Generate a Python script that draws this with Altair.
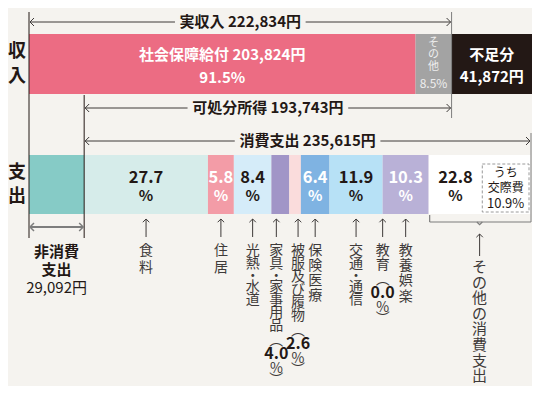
import altair as alt
import pandas as pd

# ---------------- data ----------------
income_labels = ["社会保障給付", "その他", "不足分"]
income_values = [203824, 19010, 41872]
income_pct = [91.5, 8.5, None]
actual_income = 222834
disposable_income = 193743
consumption_total = 235615
non_consumption = 29092

exp_labels = ["食料", "住居", "光熱・水道", "家具・家事用品", "被服及び履物",
              "保険医療", "交通・通信", "教育", "教養娯楽", "その他の消費支出"]
exp_pct = [27.7, 5.8, 8.4, 4.0, 2.6, 6.4, 11.9, 0.0, 10.3, 22.8]
sub_label = ["うち", "交際費"]
sub_pct = 10.9

# ---------------- layout & style ----------------
W, H = 524, 378
BG = "#f5f3ef"
FONT = "Noto Sans CJK JP"
INK = "#231815"
LABEL_INK = "#3e3a39"
GRAY = "#7d7d7d"
X0_PX, XEND_PX = 21, 523

income_colors = {"社会保障給付": "#ec6c83", "その他": "#a3a3a3", "不足分": "#231815"}
exp_colors = {"非消費支出": "#86cbc6", "食料": "#d6ecea", "住居": "#f39ca7",
              "光熱・水道": "#d5ecf9", "家具・家事用品": "#a195c7",
              "被服及び履物": "#fadcdc", "保険医療": "#7fb3e2",
              "交通・通信": "#b7e1f6", "教育": "#cccccc", "教養娯楽": "#b9b1d7",
              "その他の消費支出": "#ffffff"}
white_in_bar = {"住居", "保険医療", "教養娯楽"}
label_dx = {"家具・家事用品": -4, "被服及び履物": 3}
char_step = {"食料": 16.5, "住居": 16.5, "保険医療": 15.0, "教養娯楽": 15.2,
             "教育": 14, "その他の消費支出": 15.6}

INC_Y = (26, 86)
EXP_Y = (147, 206)

total = non_consumption + consumption_total
ypp = total / (XEND_PX - X0_PX)          # yen per pixel
XMIN, XMAX = -X0_PX * ypp, (W - X0_PX) * ypp


def px(n):
    return n * ypp


XS = alt.Scale(domain=[XMIN, XMAX], range=[0, W], nice=False, zero=False)
YS = alt.Scale(domain=[0, H], range=[0, H], nice=False, zero=False)
X = alt.X("x:Q", scale=XS, axis=None)
Y = alt.Y("y:Q", scale=YS, axis=None)

LEFT = "M1,-1L0,0L1,1"
RIGHT = "M-1,-1L0,0L-1,1"
UP = "M-1,1L0,0L1,1"
NOTCH = "M-1,0L0,1L1,0"


def text_w(s, fs):
    w = 0
    for c in s:
        if ord(c) > 0x2E80:
            w += fs
        elif c in ",.":
            w += 0.3 * fs
        elif c == " ":
            w += 0.25 * fs
        else:
            w += 0.56 * fs
    return w


def texts(rows, size, color, weight="normal"):
    return alt.Chart(pd.DataFrame(rows)).mark_text(
        font=FONT, fontSize=size, color=color, fontWeight=weight,
        align="center", baseline="middle").encode(x=X, y=Y, text="text:N")


def hrules(rows, color, sw=1):
    return alt.Chart(pd.DataFrame(rows)).mark_rule(color=color, strokeWidth=sw).encode(
        x=X, x2="x2", y=Y)


def vrules(rows, color, sw=1):
    return alt.Chart(pd.DataFrame(rows)).mark_rule(color=color, strokeWidth=sw).encode(
        x=X, y=Y, y2="y2")


def marks(rows, shape, size, color, sw=1):
    return alt.Chart(pd.DataFrame(rows)).mark_point(
        shape=shape, size=size, filled=False, color=color, strokeWidth=sw,
        opacity=1).encode(x=X, y=Y)


layers = []

# ---------------- bars ----------------
bars, keys, cols = [], [], []
cum = 0
for lab, v in zip(income_labels, income_values):
    bars.append(dict(key="inc:" + lab, x=cum, x2=cum + v, y=INC_Y[0], y2=INC_Y[1]))
    keys.append("inc:" + lab)
    cols.append(income_colors[lab])
    cum += v
bars[-1]["x2"] = XMAX  # shortfall block bleeds to the edge, as in the original

bars.append(dict(key="exp:非消費支出", x=0, x2=non_consumption, y=EXP_Y[0], y2=EXP_Y[1]))
keys.append("exp:非消費支出")
cols.append(exp_colors["非消費支出"])
seg = {}
cum = non_consumption
for lab, p in zip(exp_labels, exp_pct):
    w = p / 100 * consumption_total
    seg[lab] = (cum, cum + w)
    bars.append(dict(key="exp:" + lab, x=cum, x2=cum + w, y=EXP_Y[0], y2=EXP_Y[1]))
    keys.append("exp:" + lab)
    cols.append(exp_colors[lab])
    cum += w
exp_end = non_consumption + consumption_total

layers.append(alt.Chart(pd.DataFrame(bars)).mark_rect(strokeWidth=0).encode(
    x=X, x2="x2", y=Y, y2="y2",
    color=alt.Color("key:N", scale=alt.Scale(domain=keys, range=cols), legend=None)))

# dashed sub box (うち交際費)
sub_w = sub_pct / 100 * consumption_total
box_x0, box_x1 = exp_end - sub_w, exp_end - px(2)
layers.append(alt.Chart(pd.DataFrame([dict(x=box_x0, x2=box_x1, y=156, y2=204)])).mark_rect(
    fill="#ffffff", stroke="#9a9a9a", strokeDash=[3, 2], strokeWidth=1).encode(
    x=X, x2="x2", y=Y, y2="y2"))
bm = (box_x0 + box_x1) / 2
layers.append(texts([dict(x=bm, y=165, text=sub_label[0]),
                     dict(x=bm, y=180, text=sub_label[1])], 12, INK))
layers.append(texts([dict(x=bm, y=196, text=f"{sub_pct}%")], 13, INK))

# ---------------- vertical guide lines ----------------
layers.append(vrules([dict(x=0, y=4, y2=230), dict(x=non_consumption, y=87, y2=230)], INK))
layers.append(vrules([dict(x=actual_income, y=4, y2=110), dict(x=exp_end, y=125, y2=214)], GRAY))

# ---------------- horizontal arrows with labels ----------------
arrows = [
    (0, actual_income, f"実収入 {actual_income:,}円", 14),
    (non_consumption, actual_income, f"可処分所得 {disposable_income:,}円", 100),
    (non_consumption, exp_end, f"消費支出 {consumption_total:,}円", 133),
]
seg_rows, lt, rt, lab_rows = [], [], [], []
for xs, xe, lab, y in arrows:
    mid = (xs + xe) / 2
    half = px(text_w(lab, 15) / 2 + 6)
    seg_rows.append(dict(x=xs + px(1), x2=mid - half, y=y))
    seg_rows.append(dict(x=mid + half, x2=xe - px(1), y=y))
    lt.append(dict(x=xs + px(1), y=y))
    rt.append(dict(x=xe - px(1), y=y))
    lab_rows.append(dict(x=mid, y=y, text=lab))
layers.append(hrules(seg_rows, LABEL_INK))
layers.append(marks(lt, LEFT, 64, LABEL_INK))
layers.append(marks(rt, RIGHT, 64, LABEL_INK))
layers.append(texts(lab_rows, 15, INK, "bold"))

# non-consumption double arrow
layers.append(hrules([dict(x=px(1.5), x2=non_consumption - px(1.5), y=219)], GRAY, 2))
layers.append(marks([dict(x=px(1), y=219)], LEFT, 64, GRAY, 1.5))
layers.append(marks([dict(x=non_consumption - px(1), y=219)], RIGHT, 64, GRAY, 1.5))
nm = non_consumption / 2
layers.append(texts([dict(x=nm, y=244, text="非消費"), dict(x=nm, y=262, text="支出")], 15, INK, "bold"))
layers.append(texts([dict(x=nm, y=280, text=f"{non_consumption:,}円")], 15, INK))

# ---------------- row titles ----------------
row_t = [("収", 44), ("入", 69), ("支", 165), ("出", 189)]
layers.append(alt.Chart(pd.DataFrame([dict(text=t, y=y) for t, y in row_t])).mark_text(
    font=FONT, fontSize=18, fontWeight="bold", color=INK, baseline="middle").encode(
    x=alt.value(9), y=Y, text="text:N"))

# ---------------- income bar labels ----------------
cum = 0
inc_seg = {}
for lab, v in zip(income_labels, income_values):
    inc_seg[lab] = (cum, cum + v)
    cum += v
m = sum(inc_seg["社会保障給付"]) / 2
layers.append(texts([dict(x=m, y=47, text=f"社会保障給付 {income_values[0]:,}円"),
                     dict(x=m, y=70, text=f"{income_pct[0]}%")], 15, "#ffffff", "bold"))
m = sum(inc_seg["その他"]) / 2
layers.append(texts([dict(x=m, y=35 + 12 * i, text=c) for i, c in enumerate("その他")], 11, "#eeeeee"))
layers.append(texts([dict(x=m, y=76, text=f"{income_pct[1]}%")], 12, "#eeeeee"))
m = (actual_income + XMAX) / 2
layers.append(texts([dict(x=m, y=47, text="不足分"),
                     dict(x=m, y=69, text=f"{income_values[2]:,}円")], 15, "#ffffff", "bold"))

# ---------------- expenditure bar labels ----------------
for color in (INK, "#ffffff"):
    nums, pcts = [], []
    for lab, p in zip(exp_labels, exp_pct):
        if p < 5 or ((lab in white_in_bar) != (color == "#ffffff")):
            continue
        a, b = seg[lab]
        if lab == "その他の消費支出":
            b = box_x0
        mm = (a + b) / 2
        nums.append(dict(x=mm, y=170, text=f"{p}"))
        pcts.append(dict(x=mm, y=188, text="%"))
    layers.append(texts(nums, 16.5, color, "bold"))
    layers.append(texts(pcts, 15, color, "bold"))

# ---------------- arrows & vertical labels under the bar ----------------
ar_rules, ar_heads = [], []
tok = {"char": [], "num": [], "pct": [], "big": []}


def adv(prev, cur, step):
    if prev == "dot" or cur == "dot":
        return 11.5
    return {"char": step, "open": 14.5, "num": 13.5, "pct": 14.5, "close": 11}[cur]


for lab, p in zip(exp_labels, exp_pct):
    a, b = seg[lab]
    xm = (a + b) / 2 + px(label_dx.get(lab, 0))
    big = lab == "その他の消費支出"
    if big:
        ar_rules.append(dict(x=xm, y=226, y2=248))
        ar_heads.append(dict(x=xm, y=226))
        y = 259
    else:
        ar_rules.append(dict(x=xm, y=211, y2=229))
        ar_heads.append(dict(x=xm, y=211))
        y = 243
    items = [(c, "dot" if c == "・" else "char") for c in lab]
    if p < 5:
        items += [("︵", "open"), (f"{p}", "num"), ("%", "pct"), ("︶", "close")]
    step = char_step.get(lab, 13.0)
    prev = None
    for t, k in items:
        if prev is not None:
            y += adv(prev, k, step)
        bucket = "big" if big else ("num" if k == "num" else ("pct" if k == "pct" else "char"))
        tok[bucket].append(dict(x=xm, y=y, text=t))
        prev = k

layers.append(vrules(ar_rules, LABEL_INK))
layers.append(marks(ar_heads, UP, 42, LABEL_INK))
layers.append(texts(tok["char"], 14, LABEL_INK))
layers.append(texts(tok["num"], 16, INK, "bold"))
layers.append(texts(tok["pct"], 14, LABEL_INK))
layers.append(texts(tok["big"], 15, LABEL_INK))

# bracket under その他の消費支出
oa, ob = seg["その他の消費支出"]
om = (oa + ob) / 2
layers.append(hrules([dict(x=oa + px(1), x2=exp_end, y=214)], GRAY, 1.2))
layers.append(vrules([dict(x=oa + px(1), y=207, y2=214)], GRAY, 1.2))
layers.append(marks([dict(x=om, y=214)], NOTCH, 30, GRAY, 1.2))

chart = alt.layer(*layers).properties(
    width=W, height=H, padding=0, background=BG,
    autosize=alt.AutoSizeParams(type="none"),
).configure_view(stroke=None)

chart.save("out.html", embed_options={"renderer": "svg", "actions": False})
